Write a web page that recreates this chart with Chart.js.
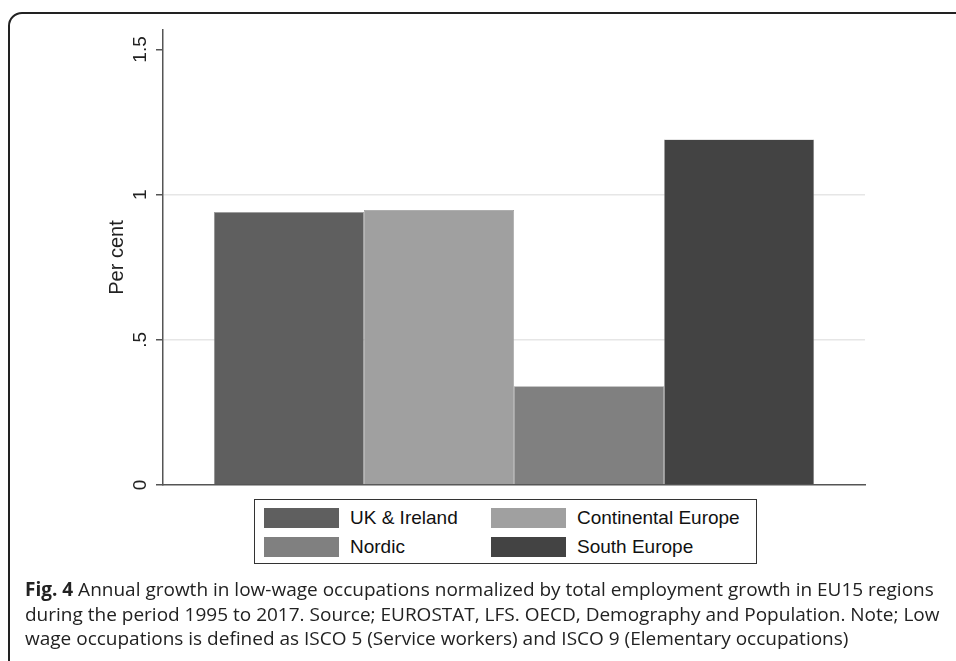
<!DOCTYPE html>
<html>
<head>
<meta charset="utf-8">
<script src="https://cdn.jsdelivr.net/npm/chart.js@4/dist/chart.umd.min.js"></script>
<style>
    body { margin: 0; background: #fff; }
    #wrap { position: relative; width: 956px; height: 661px; overflow: hidden; }
    #frame {
        position: absolute; left: 8px; top: 12px; width: 980px; height: 700px;
        border: 2px solid #222; border-top-left-radius: 14px; box-sizing: border-box;
    }
    #myChart { position: absolute; left: 0; top: 0; }
    #legend {
        position: absolute; left: 254px; top: 499px; width: 503px; height: 65px;
        border: 1px solid #333; box-sizing: border-box; background: #fff;
        font-family: "Liberation Sans", Arial, sans-serif; font-size: 19px; color: #111;
    }
    .sw { position: absolute; width: 75px; height: 20px; }
    .lb { position: absolute; line-height: 20px; white-space: nowrap; }
    #caption {
        position: absolute; left: 25px; top: 577px;
        font-family: "Open Sans", sans-serif; font-size: 19px; line-height: 24.5px;
        color: #222; white-space: nowrap;
    }
</style>
</head>
<body>
<div id="wrap">
    <div id="frame"></div>
    <canvas id="myChart" width="956" height="661"></canvas>
    <div id="legend"></div>
    <div id="caption">
        <b>Fig. 4</b> Annual growth in low-wage occupations normalized by total employment growth in EU15 regions<br>
        during the period 1995 to 2017. Source; EUROSTAT, LFS. OECD, Demography and Population. Note; Low<br>
        wage occupations is defined as ISCO 5 (Service workers) and ISCO 9 (Elementary occupations)
    </div>
</div>
<script>
    // regions and their values (per cent)
    const regions = ['UK & Ireland', 'Continental Europe', 'Nordic', 'South Europe'];
    const values = [0.94, 0.947, 0.34, 1.19];
    const colors = ['#5f5f5f', '#a0a0a0', '#808080', '#434343'];
    const yTickValues = [0, 0.5, 1, 1.5];
    const yTickLabels = ['0', '.5', '1', '1.5'];

    const datasets = regions.map(function (name, i) {
        return {
            label: name,
            data: [values[i]],
            backgroundColor: colors[i],
            borderColor: '#9a9a9a',
            borderWidth: 0.6,
            categoryPercentage: 0.855,
            barPercentage: 1
        };
    });

    const ctx = document.getElementById('myChart').getContext('2d');
    const chart = new Chart(ctx, {
        type: 'bar',
        data: {
            labels: [''],
            datasets: datasets
        },
        options: {
            responsive: false,
            animation: false,
            layout: { padding: { left: 83, top: 30, right: 91, bottom: 176 } },
            plugins: {
                legend: { display: false },
                tooltip: { enabled: false }
            },
            scales: {
                x: {
                    grid: { display: false, drawTicks: false },
                    border: { color: '#555', width: 1.5 },
                    ticks: { display: false },
                    afterFit: function (s) { s.height = 0; }
                },
                y: {
                    min: 0,
                    max: 1.567,
                    afterBuildTicks: function (s) {
                        s.ticks = yTickValues.map(function (v) { return { value: v }; });
                    },
                    afterFit: function (s) { s.width = 80; },
                    grid: {
                        color: function (c) {
                            const v = c.tick && c.tick.value;
                            return (v === 0.5 || v === 1) ? '#e6e6e6' : 'rgba(0,0,0,0)';
                        },
                        lineWidth: 1.5,
                        tickColor: '#555',
                        tickWidth: 1.5,
                        tickLength: 7
                    },
                    border: { color: '#555', width: 1.5 },
                    ticks: {
                        minRotation: 90,
                        maxRotation: 90,
                        crossAlign: 'center',
                        padding: 2,
                        color: '#222',
                        font: { family: 'Liberation Sans', size: 19 },
                        callback: function (v) {
                            return yTickLabels[yTickValues.indexOf(v)];
                        }
                    },
                    title: {
                        display: true,
                        text: 'Per cent',
                        color: '#222',
                        font: { family: 'Liberation Sans', size: 20 },
                        padding: { top: 22, bottom: 0 }
                    }
                }
            }
        }
    });

    // legend box under the plot, two columns like the original
    const legend = document.getElementById('legend');
    const swatchX = [9, 236];
    const textX = [95, 322];
    const rowY = [8, 37];
    chart.data.datasets.forEach(function (ds, i) {
        const col = i % 2, row = Math.floor(i / 2);
        const sw = document.createElement('div');
        sw.className = 'sw';
        sw.style.left = swatchX[col] + 'px';
        sw.style.top = rowY[row] + 'px';
        sw.style.background = ds.backgroundColor;
        legend.appendChild(sw);
        const lb = document.createElement('div');
        lb.className = 'lb';
        lb.style.left = textX[col] + 'px';
        lb.style.top = rowY[row] + 'px';
        lb.textContent = ds.label;
        legend.appendChild(lb);
    });
</script>
</body>
</html>
